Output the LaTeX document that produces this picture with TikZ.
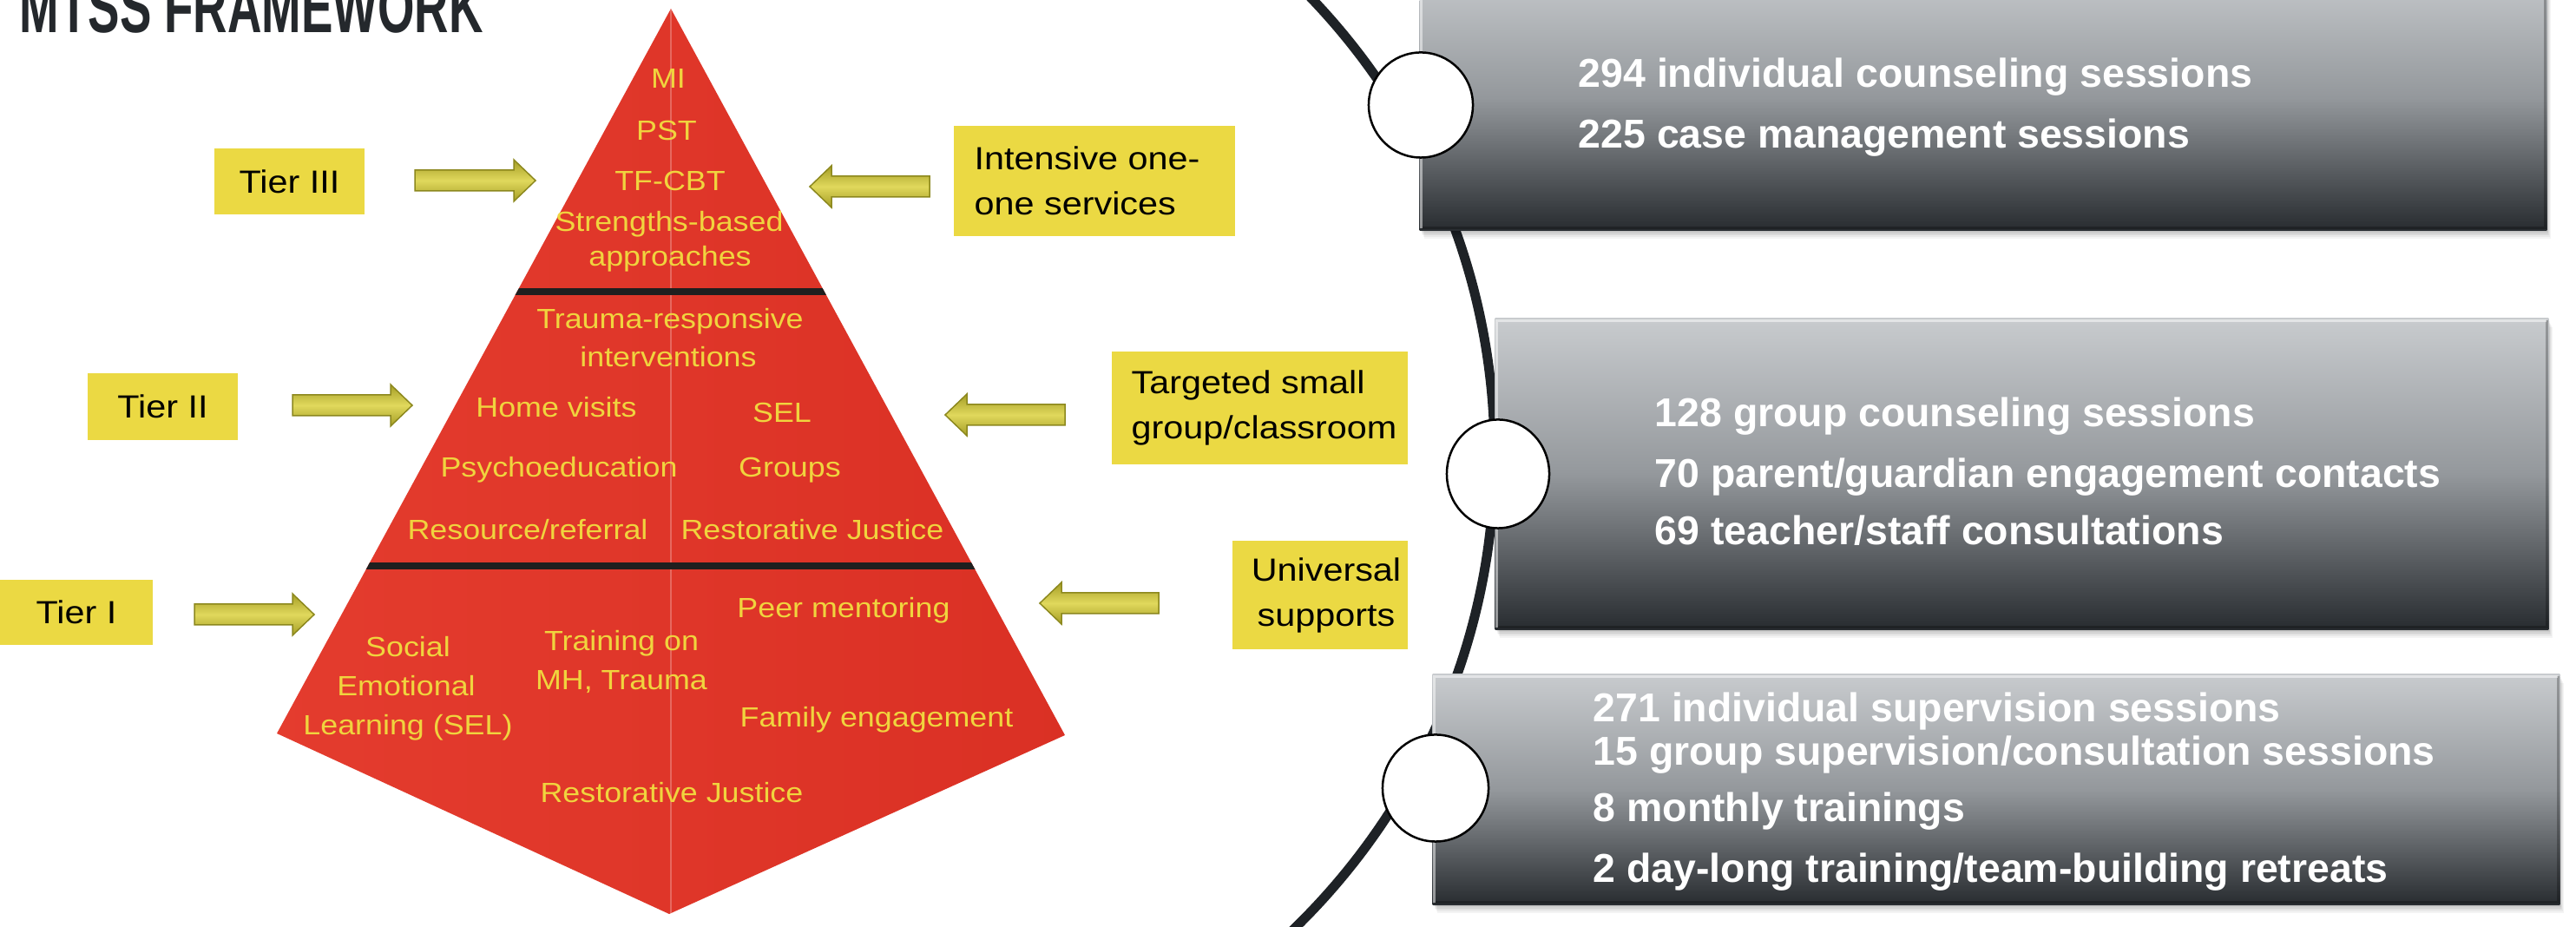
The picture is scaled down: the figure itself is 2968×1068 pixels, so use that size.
\documentclass[tikz,border=0pt]{standalone}
\usepackage{fontspec}
\setmainfont{Liberation Sans}
\newfontfamily\widefont{Liberation Sans}[FakeStretch=1.12]
\newfontfamily\titlefont{Liberation Sans}[FakeStretch=0.65]
\usetikzlibrary{shapes.geometric}
\definecolor{titlecol}{RGB}{36,40,44}
\definecolor{boxyel}{RGB}{235,217,67}
\definecolor{pyryel}{RGB}{240,212,62}
\definecolor{pyrL}{RGB}{228,60,46}
\definecolor{pyrR}{RGB}{218,48,36}
\definecolor{arrdark}{RGB}{165,158,38}
\definecolor{arrlight}{RGB}{224,216,92}
\definecolor{arrline}{RGB}{140,136,30}
\definecolor{gtop}{RGB}{200,203,206}
\definecolor{gmid}{RGB}{148,152,156}
\definecolor{gbot}{RGB}{40,44,48}
\definecolor{arccol}{RGB}{30,34,38}
\newcommand\rarr[3]{\path[blockarrow] (#1,#3-12) -- (#2-25,#3-12) -- (#2-25,#3-24) -- (#2,#3) -- (#2-25,#3+24) -- (#2-25,#3+12) -- (#1,#3+12) -- cycle;}
\newcommand\larr[3]{\path[blockarrow] (#1,#3-12) -- (#2+25,#3-12) -- (#2+25,#3-24) -- (#2,#3) -- (#2+25,#3+24) -- (#2+25,#3+12) -- (#1,#3+12) -- cycle;}
\newcommand\boxshadow[4]{\foreach \k in {1,...,6} {\fill[black, opacity=0.045] (#1+0.8*\k,#2+1.6*\k) rectangle (#3+0.8*\k,#4+1.6*\k);}}
\begin{document}
\begin{tikzpicture}[x=0.01cm,y=-0.01cm,
  ptext/.style={text=pyryel, font=\widefont\fontsize{9.1}{10}\selectfont, inner sep=0, anchor=base},
  ybox/.style={fill=boxyel, inner sep=0, font=\widefont\fontsize{10.5}{14.8}\selectfont, text=black},
  ytext/.style={inner sep=0, font=\widefont\fontsize{10.5}{14.8}\selectfont, text=black},
  blockarrow/.style={draw=arrline, line width=0.015cm, top color=arrdark, bottom color=arrdark, middle color=arrlight},
  divider/.style={draw=black!88, line width=0.075cm},
  gbox/.style={inner sep=0, draw=none, top color=gtop, bottom color=gbot, middle color=gmid},
  bevlight/.style={draw=white, opacity=0.5, line width=0.03cm},
  bevdark/.style={draw=black, opacity=0.25, line width=0.03cm},
  gtext/.style={text=white, font=\bfseries\fontsize{13.2}{14}\selectfont, inner sep=0, anchor=base west},
  circ/.style={ellipse, draw=black, line width=0.025cm, fill=white, inner sep=0},
  arcline/.style={draw=arccol, line width=0.11cm}]
\useasboundingbox[fill=white] (0,0) rectangle (2968,1068);

% title
\node[anchor=base west, inner sep=0, text=titlecol, font={\titlefont\bfseries\fontsize{23.9}{24}\selectfont}] (title) at (22,38) {MTSS FRAMEWORK};

% pyramid
\begin{scope}
\path[clip] (773,10) -- (1227,847) -- (771,1053) -- (319,845) -- cycle;
\shade[left color=pyrL, right color=pyrR] (300,0) rectangle (1250,1068);
\draw[white, opacity=0.25, line width=0.015cm] (773,0) -- (773,1068);
\draw[divider] (300,336) -- (1250,336);
\draw[divider] (300,652) -- (1250,652);
\end{scope}

% tier III texts
\node[ptext] (mi) at (770,102) {MI};
\node[ptext] (pst) at (768,162) {PST};
\node[ptext] (tfcbt) at (772,220) {TF-CBT};
\node[ptext] (strength) at (771,267) {Strengths-based};
\node[ptext] (approach) at (772,307) {approaches};
% tier II texts
\node[ptext] (trauma) at (772,379) {Trauma-responsive};
\node[ptext] (interv) at (770,423) {interventions};
\node[ptext] (home) at (641,481) {Home visits};
\node[ptext] (sel) at (901,487) {SEL};
\node[ptext] (psycho) at (644,550) {Psychoeducation};
\node[ptext] (groups) at (910,550) {Groups};
\node[ptext] (resource) at (608,622) {Resource/referral};
\node[ptext] (restor2) at (936,622) {Restorative Justice};
% tier I texts
\node[ptext] (peer) at (972,712) {Peer mentoring};
\node[ptext] (social) at (470,757) {Social};
\node[ptext] (emot) at (468,802) {Emotional};
\node[ptext] (learn) at (470,847) {Learning (SEL)};
\node[ptext] (train) at (716,750) {Training on};
\node[ptext] (mh) at (716,795) {MH, Trauma};
\node[ptext] (family) at (1010,838) {Family engagement};
\node[ptext] (restor1) at (774,925) {Restorative Justice};

% tier boxes
\node[ybox, minimum width=1.73cm, minimum height=0.76cm] (t3) at (333.5,209) {Tier III};
\node[ybox, minimum width=1.73cm, minimum height=0.77cm] (t2) at (187.5,468.5) {Tier II};
\node[ybox, minimum width=1.76cm, minimum height=0.75cm] (t1) at (88,705.5) {Tier I};

% right yellow boxes
\node[ybox, minimum width=3.24cm, minimum height=1.27cm] (ints) at (1261,208.5) {};
\node[ytext, anchor=west, align=left] (intstxt) at (1122,208.5) {Intensive one-\\one services};
\node[ybox, minimum width=3.41cm, minimum height=1.30cm] (targ) at (1451.5,470) {};
\node[ytext, anchor=west, align=left] (targtxt) at (1303,470) {Targeted small\\group/classroom};
\node[ybox, minimum width=2.02cm, minimum height=1.25cm] (univ) at (1521,685.5) {};
\node[ytext, align=center] (univtxt) at (1528,686) {Universal\\supports};

% block arrows
\rarr{478}{617}{208}
\rarr{337}{475}{467}
\rarr{224}{362}{708}
\larr{1071}{933}{215}
\larr{1227}{1089}{478}
\larr{1335}{1198}{695}

% arc
\begin{scope}
\clip (1400,-60) rectangle (1900,1130);
\draw[arcline] (961,524) circle[radius=761];
\end{scope}

% grey boxes
\boxshadow{1636}{-40}{2934}{265}
\node[gbox, minimum width=12.98cm, minimum height=3.05cm] (g1) at (2285,112.5) {};
\draw[bevdark] ([shift={(-3,3)}]g1.north east) -- ([shift={(-3,-3)}]g1.south east) -- ([shift={(3,-3)}]g1.south west);
\draw[bevlight] ([shift={(3,-3)}]g1.south west) -- ([shift={(3,3)}]g1.north west);

\boxshadow{1723}{367}{2936}{725}
\node[gbox, minimum width=12.13cm, minimum height=3.58cm] (g2) at (2329.5,546) {};
\draw[bevdark] ([shift={(-3,3)}]g2.north east) -- ([shift={(-3,-3)}]g2.south east) -- ([shift={(3,-3)}]g2.south west);
\draw[bevlight] ([shift={(3,-3)}]g2.south west) -- ([shift={(3,3)}]g2.north west) -- ([shift={(-3,3)}]g2.north east);

\boxshadow{1651}{777}{2949}{1042}
\node[gbox, minimum width=12.98cm, minimum height=2.65cm] (g3) at (2300,909.5) {};
\draw[bevdark] ([shift={(-3,3)}]g3.north east) -- ([shift={(-3,-3)}]g3.south east) -- ([shift={(3,-3)}]g3.south west);
\draw[bevlight] ([shift={(3,-3)}]g3.south west) -- ([shift={(3,3)}]g3.north west) -- ([shift={(-3,3)}]g3.north east);

% circles
\node[circ, minimum width=1.20cm, minimum height=1.21cm] (c1) at (1637,121) {};
\node[circ, minimum width=1.18cm, minimum height=1.25cm] (c2) at (1726,546) {};
\node[circ, minimum width=1.22cm, minimum height=1.23cm] (c3) at (1654,908) {};

% grey box texts
\node[gtext] (l11) at (1818,101) {294 individual counseling sessions};
\node[gtext] (l12) at (1818,171) {225 case management sessions};
\node[gtext] (l21) at (1906,492) {128 group counseling sessions};
\node[gtext] (l22) at (1906,562) {70 parent/guardian engagement contacts};
\node[gtext] (l23) at (1906,628) {69 teacher/staff consultations};
\node[gtext] (l31) at (1835,832) {271 individual supervision sessions};
\node[gtext] (l32) at (1835,882) {15 group supervision/consultation sessions};
\node[gtext] (l33) at (1835,947) {8 monthly trainings};
\node[gtext] (l34) at (1835,1017) {2 day-long training/team-building retreats};
\end{tikzpicture}
\end{document}
